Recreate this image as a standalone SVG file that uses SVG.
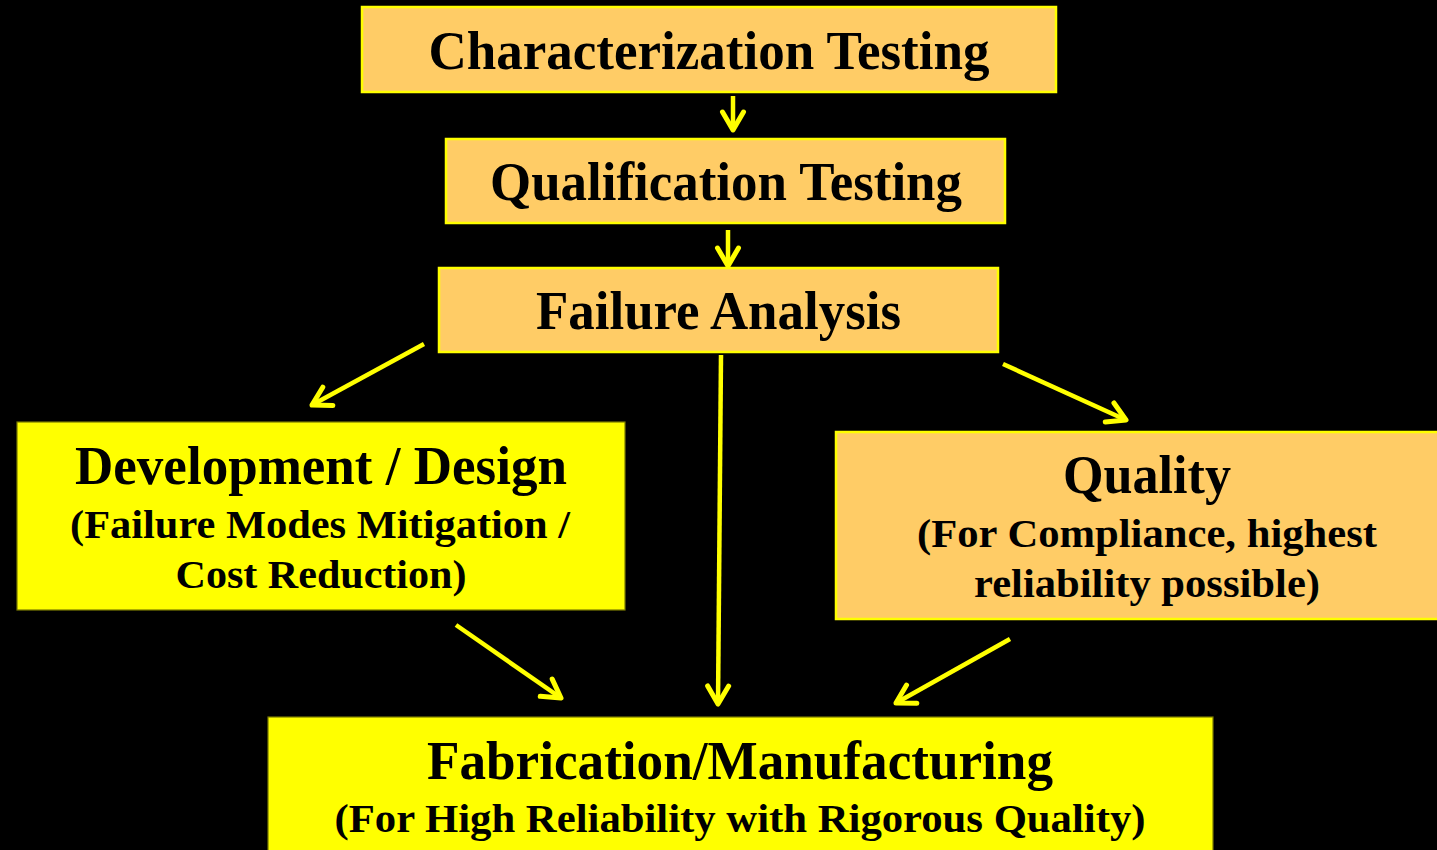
<svg xmlns="http://www.w3.org/2000/svg" width="1437" height="850" viewBox="0 0 1437 850">
<style>
  .orange { fill: #FFCC66; stroke: #FFFF00; stroke-width: 2.5; }
  .yellow { fill: #FFFF00; stroke: #7a7a00; stroke-width: 1.2; }
  text { font-family: "Liberation Serif", "Times New Roman", serif; font-weight: bold; fill: #000; text-anchor: middle; }
  .big { font-size: 55px; }
  .small { font-size: 41px; }
  .conn line { stroke: #FFFF00; stroke-width: 4.5; fill: none; }
</style>
<defs>
  <marker id="arr" markerUnits="userSpaceOnUse" viewBox="-24 -14 28 28" refX="0" refY="0" markerWidth="28" markerHeight="28" orient="auto" overflow="visible">
    <path d="M -18 -10.5 L 0 0 L -18 10.5" fill="none" stroke="#FFFF00" stroke-width="5" stroke-linecap="round" stroke-linejoin="round"/>
  </marker>
</defs>
<rect width="1437" height="850" fill="#000"/>

<g id="characterization">
  <rect class="orange" x="362" y="7" width="694" height="85"/>
  <text class="big" x="709" y="69" textLength="561" lengthAdjust="spacingAndGlyphs">Characterization Testing</text>
</g>
<g id="qualification">
  <rect class="orange" x="446" y="139" width="559" height="84"/>
  <text class="big" x="726" y="200" textLength="472" lengthAdjust="spacingAndGlyphs">Qualification Testing</text>
</g>
<g id="failure-analysis">
  <rect class="orange" x="439" y="268" width="559" height="84"/>
  <text class="big" x="718.5" y="329" textLength="365" lengthAdjust="spacingAndGlyphs">Failure Analysis</text>
</g>
<g id="development">
  <rect class="yellow" x="17" y="422" width="608" height="188"/>
  <text class="big" x="321" y="484" textLength="492" lengthAdjust="spacingAndGlyphs">Development / Design</text>
  <text class="small" x="320" y="538" textLength="500" lengthAdjust="spacingAndGlyphs">(Failure Modes Mitigation /</text>
  <text class="small" x="321" y="588" textLength="291" lengthAdjust="spacingAndGlyphs">Cost Reduction)</text>
</g>
<g id="quality">
  <rect class="orange" x="836" y="432" width="610" height="187"/>
  <text class="big" x="1147" y="493" textLength="168" lengthAdjust="spacingAndGlyphs">Quality</text>
  <text class="small" x="1147" y="547" textLength="460" lengthAdjust="spacingAndGlyphs">(For Compliance, highest</text>
  <text class="small" x="1147" y="597" textLength="346" lengthAdjust="spacingAndGlyphs">reliability possible)</text>
</g>
<g id="fabrication">
  <rect class="yellow" x="268" y="717" width="945" height="145"/>
  <text class="big" x="740" y="779" textLength="626" lengthAdjust="spacingAndGlyphs">Fabrication/Manufacturing</text>
  <text class="small" x="740" y="832" textLength="811" lengthAdjust="spacingAndGlyphs">(For High Reliability with Rigorous Quality)</text>
</g>

<g id="connectors" class="conn">
  <line x1="733" y1="96" x2="733" y2="130" marker-end="url(#arr)"/>
  <line x1="728" y1="230" x2="728" y2="266" marker-end="url(#arr)"/>
  <line x1="424" y1="344" x2="312" y2="405" marker-end="url(#arr)"/>
  <line x1="721" y1="355" x2="718" y2="704" marker-end="url(#arr)"/>
  <line x1="1003" y1="364" x2="1126" y2="420" marker-end="url(#arr)"/>
  <line x1="456" y1="625" x2="561" y2="698" marker-end="url(#arr)"/>
  <line x1="1010" y1="639" x2="896" y2="703" marker-end="url(#arr)"/>
</g>
</svg>
